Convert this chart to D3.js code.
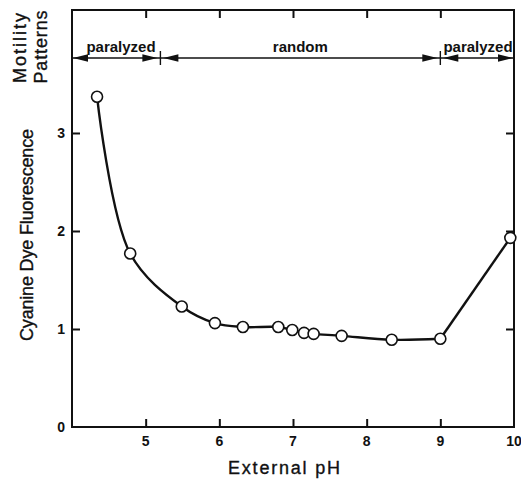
<!DOCTYPE html>
<html>
<head>
<meta charset="utf-8">
<script src="https://cdn.jsdelivr.net/npm/d3@7"></script>
<style>
  body { margin: 0; background: #fff; }
  svg { display: block; }
  text { font-family: "Liberation Sans", Arial, sans-serif; fill: #111; }
</style>
</head>
<body>
<div class="chart"></div>
<script>
// values
const phValues = [4.34, 4.79, 5.49, 5.94, 6.32, 6.80, 6.99, 7.15, 7.28, 7.66, 8.34, 9.00, 9.95];
const fluorescence = [3.37, 1.77, 1.23, 1.06, 1.02, 1.02, 0.99, 0.96, 0.95, 0.93, 0.89, 0.90, 1.93];
const xTicks = [5, 6, 7, 8, 9, 10];
const yTicks = [0, 1, 2, 3];
const motilityLabels = ['paralyzed', 'random', 'paralyzed'];
const motilityBounds = [4, 5.2, 9, 10];

const width = 521, height = 483;
const margin = ({top: 10, right: 7, bottom: 56, left: 72});

const svg = d3.select('.chart')
  .append('svg')
  .attr('width', width)
  .attr('height', height);

const x = d3.scaleLinear().domain([4, 10]).range([margin.left, width - margin.right]);
const y = d3.scaleLinear().domain([0, 4.255]).range([height - margin.bottom, margin.top]);

const ink = '#111';

// frame
svg.append('rect')
  .attr('x', x(4)).attr('y', y(4.255))
  .attr('width', x(10) - x(4)).attr('height', y(0) - y(4.255))
  .attr('fill', 'none').attr('stroke', ink).attr('stroke-width', 2);

// inward ticks, all four sides
const tickLen = 8;
svg.append('g')
  .attr('transform', `translate(0,${y(0)})`)
  .call(d3.axisTop(x).tickValues(xTicks.filter(d => d < 10)).tickSize(tickLen).tickFormat(''))
  .call(g => g.select('.domain').remove());
svg.append('g')
  .attr('transform', `translate(0,${y(4.255)})`)
  .call(d3.axisBottom(x).tickValues(xTicks.filter(d => d < 10)).tickSize(tickLen).tickFormat(''))
  .call(g => g.select('.domain').remove());
svg.append('g')
  .attr('transform', `translate(${x(4)},0)`)
  .call(d3.axisRight(y).tickValues(yTicks.filter(d => d > 0)).tickSize(tickLen).tickFormat(''))
  .call(g => g.select('.domain').remove());
svg.append('g')
  .attr('transform', `translate(${x(10)},0)`)
  .call(d3.axisLeft(y).tickValues(yTicks.filter(d => d > 0)).tickSize(tickLen).tickFormat(''))
  .call(g => g.select('.domain').remove());
svg.selectAll('.tick line').attr('stroke', ink).attr('stroke-width', 2);

// tick labels
svg.append('g').selectAll('text')
  .data(xTicks)
  .join('text')
  .attr('x', d => x(d))
  .attr('y', y(0) + 19)
  .attr('text-anchor', 'middle')
  .attr('font-size', 14)
  .attr('font-weight', 'bold')
  .text(d => d);
svg.append('g').selectAll('text')
  .data(yTicks)
  .join('text')
  .attr('x', x(4) - 7)
  .attr('y', d => y(d) + 5)
  .attr('text-anchor', 'end')
  .attr('font-size', 14)
  .attr('font-weight', 'bold')
  .text(d => d);

// axis titles
svg.append('text')
  .attr('x', 284).attr('y', 474)
  .attr('text-anchor', 'middle')
  .attr('font-size', 18)
  .attr('stroke', ink).attr('stroke-width', 0.35)
  .attr('textLength', 112).attr('lengthAdjust', 'spacing')
  .text('External pH');
svg.append('text')
  .attr('transform', 'translate(33,235) rotate(-90)')
  .attr('text-anchor', 'middle')
  .attr('font-size', 18)
  .attr('stroke', ink).attr('stroke-width', 0.35)
  .attr('textLength', 212).attr('lengthAdjust', 'spacing')
  .text('Cyanine Dye Fluorescence');
svg.append('text')
  .attr('transform', 'translate(26,48) rotate(-90)')
  .attr('text-anchor', 'middle')
  .attr('font-size', 18)
  .attr('stroke', ink).attr('stroke-width', 0.35)
  .attr('textLength', 70).attr('lengthAdjust', 'spacing')
  .text('Motility');
svg.append('text')
  .attr('transform', 'translate(47,47) rotate(-90)')
  .attr('text-anchor', 'middle')
  .attr('font-size', 18)
  .attr('stroke', ink).attr('stroke-width', 0.35)
  .attr('textLength', 73).attr('lengthAdjust', 'spacing')
  .text('Patterns');

// motility bands: double-headed arrows between bounds
const bandY = 58;
svg.append('line')
  .attr('x1', x(4)).attr('x2', x(10))
  .attr('y1', bandY).attr('y2', bandY)
  .attr('stroke', ink).attr('stroke-width', 1.6);

const head = (tip, dir) => {
  const len = 15, half = 3.8;
  return `M${tip},${bandY} L${tip - dir * len},${bandY - half} L${tip - dir * len},${bandY + half} Z`;
};
const bands = motilityLabels.map((label, i) => ({label, from: motilityBounds[i], to: motilityBounds[i + 1]}));

svg.append('g').selectAll('path')
  .data(bands.flatMap(b => [
    {tip: x(b.from) + (b.from === 4 ? 1 : 3), dir: -1},
    {tip: x(b.to) - (b.to === 10 ? 1 : 3), dir: 1}
  ]))
  .join('path')
  .attr('d', d => head(d.tip, d.dir))
  .attr('fill', ink);

svg.append('g').selectAll('line')
  .data(motilityBounds.slice(1, -1))
  .join('line')
  .attr('x1', d => x(d)).attr('x2', d => x(d))
  .attr('y1', bandY - 7).attr('y2', bandY + 7)
  .attr('stroke', ink).attr('stroke-width', 1.4);

svg.append('g').selectAll('text')
  .data(bands)
  .join('text')
  .attr('x', (d, i) => i === 0 ? 121 : i === 2 ? 478 : (x(d.from) + x(d.to)) / 2)
  .attr('y', bandY - 6)
  .attr('text-anchor', 'middle')
  .attr('font-size', 15)
  .attr('font-weight', 'bold')
  .text(d => d.label);

// curve and points
const points = phValues.map((ph, i) => ({ph, value: fluorescence[i]}));

// smooth through the acid side and plateau; the alkaline rise breaks off at pH 9
const smooth = d3.line()
  .x(d => x(d.ph))
  .y(d => y(d.value))
  .curve(d3.curveCatmullRom.alpha(0.5));
const rise = d3.line()
  .x(d => x(d.ph))
  .y(d => y(d.value));

const breakAt = phValues.indexOf(9.00);

svg.append('path')
  .datum(points.slice(0, breakAt + 1))
  .attr('fill', 'none')
  .attr('stroke', ink)
  .attr('stroke-width', 2.4)
  .attr('d', smooth);

svg.append('path')
  .datum(points.slice(breakAt))
  .attr('fill', 'none')
  .attr('stroke', ink)
  .attr('stroke-width', 2.4)
  .attr('d', rise);

svg.append('g').selectAll('circle')
  .data(points)
  .join('circle')
  .attr('cx', d => x(d.ph))
  .attr('cy', d => y(d.value))
  .attr('r', 5.5)
  .attr('fill', '#fff')
  .attr('stroke', ink)
  .attr('stroke-width', 1.6);
</script>
</body>
</html>
